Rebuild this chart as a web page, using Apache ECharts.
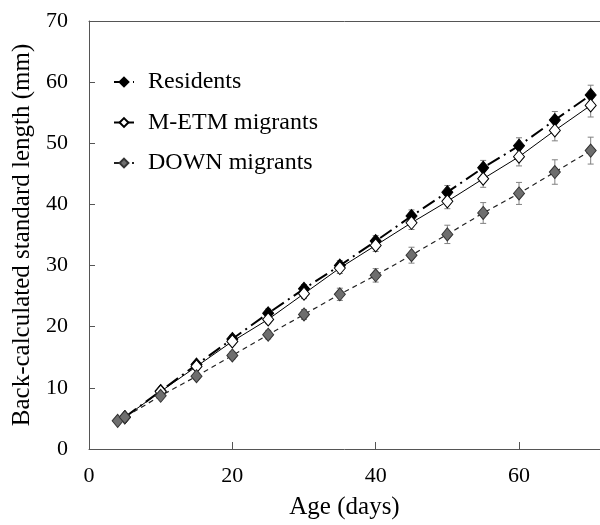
<!DOCTYPE html>
<html><head><meta charset="utf-8">
<script src="https://cdn.jsdelivr.net/npm/echarts@6/dist/echarts.min.js"></script>
<style>html,body{margin:0;padding:0;background:#fff}#c{width:600px;height:525px}</style>
</head><body><div id="c"></div>
<script>
const ages = [4, 5, 10, 15, 20, 25, 30, 35, 40, 45, 50, 55, 60, 65, 70];
const residents = [null, 5.2, 9.5, 13.8, 18.0, 22.2, 26.2, 30.0, 34.0, 38.1, 42.0, 46.0, 49.6, 53.8, 57.9];
const residentsErr = [null, 0.2, 0.4, 0.5, 0.6, 0.7, 0.7, 0.8, 0.9, 1.0, 1.1, 1.2, 1.3, 1.4, 1.6];
const metm = [null, 5.2, 9.4, 13.5, 17.6, 21.2, 25.4, 29.6, 33.3, 37.0, 40.5, 44.2, 47.8, 52.1, 56.2];
const metmErr = [null, 0.2, 0.4, 0.5, 0.6, 0.7, 0.8, 0.9, 1.0, 1.1, 1.2, 1.4, 1.5, 1.7, 1.9];
const down = [4.6, 5.2, 8.7, 11.9, 15.3, 18.7, 22.0, 25.3, 28.4, 31.7, 35.1, 38.6, 41.8, 45.3, 48.8];
const downErr = [0.2, 0.2, 0.4, 0.5, 0.6, 0.7, 0.8, 1.0, 1.1, 1.3, 1.5, 1.7, 1.8, 2.0, 2.2];
const xTicks = [0, 20, 40, 60];
const yTicks = [0, 10, 20, 30, 40, 50, 60, 70];
const names = ['Residents', 'M-ETM migrants', 'DOWN migrants'];

const FONT = '"Liberation Serif", "Times New Roman", serif';
function pts(vals) { const o = []; ages.forEach((a, i) => { if (vals[i] != null) o.push([a, vals[i]]); }); return o; }
function errs(vals, e) { const o = []; ages.forEach((a, i) => { if (vals[i] != null && e[i] != null) o.push([a, vals[i] - e[i], vals[i] + e[i]]); }); return o; }
function errSeries(vals, e) {
  return {
    type: 'custom', z: 1, silent: true,
    data: errs(vals, e),
    encode: { x: 0, y: [1, 2] },
    renderItem: function (params, api) {
      const x = api.value(0);
      const lo = api.coord([x, api.value(1)]);
      const hi = api.coord([x, api.value(2)]);
      const w = 3;
      const st = { stroke: '#808080', lineWidth: 1 };
      return { type: 'group', children: [
        { type: 'line', shape: { x1: lo[0], y1: lo[1], x2: hi[0], y2: hi[1] }, style: st },
        { type: 'line', shape: { x1: lo[0] - w, y1: lo[1], x2: lo[0] + w, y2: lo[1] }, style: st },
        { type: 'line', shape: { x1: hi[0] - w, y1: hi[1], x2: hi[0] + w, y2: hi[1] }, style: st }
      ] };
    }
  };
}
const chart = echarts.init(document.getElementById('c'), null, { renderer: 'canvas' });
chart.setOption({
  animation: false,
  backgroundColor: '#fff',
  grid: { left: 89, top: 21, right: 0, bottom: 70 },
  legend: {
    orient: 'vertical', left: 113, top: 70, padding: 0, itemWidth: 20, itemHeight: 11, itemGap: 16.5,
    data: names,
    textStyle: { fontFamily: FONT, fontSize: 24, color: '#000', padding: [0, 0, 0, 9] }
  },
  xAxis: [{
    type: 'value', min: 0, max: 71.3, interval: 20,
    name: 'Age (days)', nameLocation: 'middle', nameGap: 46,
    nameTextStyle: { fontFamily: FONT, fontSize: 25, color: '#000' },
    axisLine: { lineStyle: { color: '#555', width: 1 } },
    axisTick: { inside: true, length: 7, lineStyle: { color: '#555' }, customValues: xTicks },
    axisLabel: { fontFamily: FONT, fontSize: 22, color: '#000', margin: 16, customValues: xTicks },
    splitLine: { show: false }
  }, {
    type: 'value', position: 'top', min: 0, max: 71.3,
    axisLine: { show: true, lineStyle: { color: '#555', width: 1 } },
    axisTick: { show: false }, axisLabel: { show: false }, splitLine: { show: false }
  }],
  yAxis: {
    type: 'value', min: 0, max: 70, interval: 10,
    name: 'Back-calculated standard length (mm)', nameLocation: 'middle', nameGap: 54,
    nameTextStyle: { fontFamily: FONT, fontSize: 25, color: '#000' },
    axisLine: { show: true, lineStyle: { color: '#555', width: 1 } },
    axisTick: { show: true, inside: true, length: 6, lineStyle: { color: '#555' }, customValues: yTicks },
    axisLabel: { fontFamily: FONT, fontSize: 22, color: '#000', margin: 21, customValues: yTicks },
    splitLine: { show: false }
  },
  series: [
    errSeries(residents, residentsErr),
    errSeries(metm, metmErr),
    errSeries(down, downErr),
    {
      name: names[0], type: 'line', z: 3, data: pts(residents), symbol: 'diamond', symbolSize: [11, 13],
      itemStyle: { color: '#000', borderColor: '#000', borderWidth: 1 },
      lineStyle: { color: '#000', width: 2, type: [14, 5, 2, 5] }
    },
    {
      name: names[1], type: 'line', z: 4, data: pts(metm), symbol: 'diamond', symbolSize: [11, 13],
      itemStyle: { color: '#fff', borderColor: '#000', borderWidth: 1 },
      lineStyle: { color: '#000', width: 1, type: 'solid' }
    },
    {
      name: names[2], type: 'line', z: 5, data: pts(down), symbol: 'diamond', symbolSize: [11, 13],
      itemStyle: { color: '#6e6e6e', borderColor: '#333', borderWidth: 1 },
      lineStyle: { color: '#222', width: 1.2, type: [5, 4] }
    }
  ]
});
</script></body></html>
